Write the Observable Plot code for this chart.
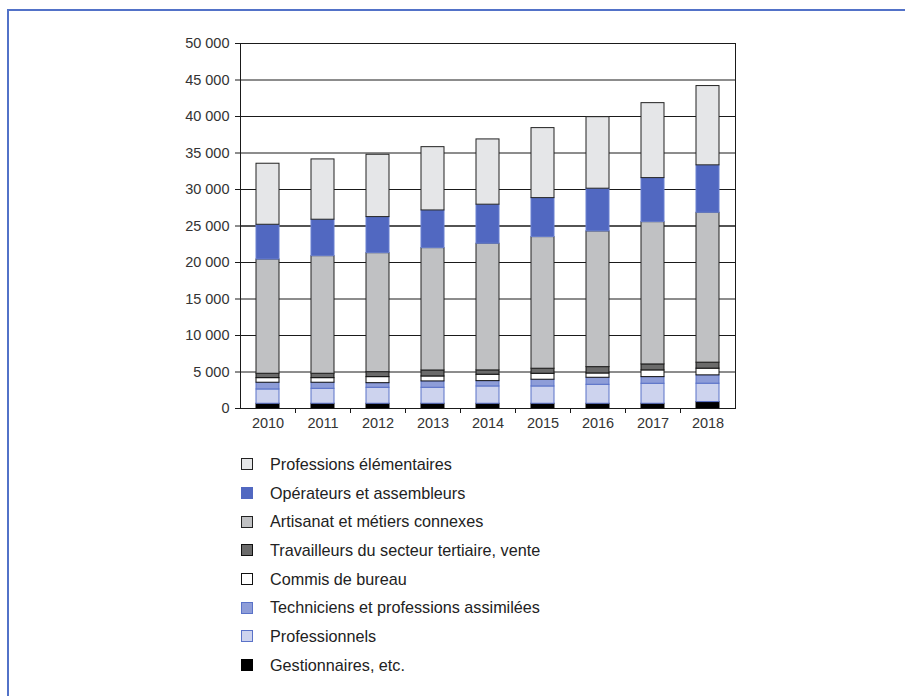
<!DOCTYPE html>
<html><head><meta charset="utf-8">
<script src="https://cdn.jsdelivr.net/npm/d3@7"></script>
<script src="https://cdn.jsdelivr.net/npm/@observablehq/plot@0.6"></script>
<style>
body{margin:0;background:#fff;font-family:"Liberation Sans",Arial,sans-serif;}
#frame{position:absolute;left:7px;top:9px;width:1000px;height:1000px;border-top:2px solid #5272c8;border-left:2px solid #5272c8;}
#chart{position:absolute;left:0;top:0;}
#legend{position:absolute;left:241px;top:450px;}
.item{height:28.7px;display:flex;align-items:center;font-size:16.2px;color:#222;}
.sw{width:12px;height:12px;box-sizing:border-box;border:1px solid;margin-right:17px;}
</style></head><body>
<div id="frame"></div><div id="chart"></div><div id="legend"></div>
<script>
const years = ["2010","2011","2012","2013","2014","2015","2016","2017","2018"];
const gestionnaires = [650,650,650,650,650,650,650,650,880];
const professionnels = [1960,2050,2190,2190,2370,2370,2600,2740,2520];
const techniciens = [920,830,630,870,730,920,960,910,1140];
const commis = [630,630,830,680,880,820,590,920,920];
const travailleurs = [600,600,680,820,590,690,870,820,820];
const artisanat = [15650,16110,16300,16760,17350,18030,18590,19490,20530];
const operateurs = [4760,4990,4940,5160,5350,5340,5850,6030,6500];
const elementaires = [8360,8260,8540,8670,8940,9590,9800,10270,10860];
const yTicks = [0,5000,10000,15000,20000,25000,30000,35000,40000,45000,50000];

// bottom to top
const seriesNames = ["Gestionnaires, etc.","Professionnels","Techniciens et professions assimilées","Commis de bureau","Travailleurs du secteur tertiaire, vente","Artisanat et métiers connexes","Opérateurs et assembleurs","Professions élémentaires"];
const seriesValues = [gestionnaires,professionnels,techniciens,commis,travailleurs,artisanat,operateurs,elementaires];
const fills = ["#000000","#cdd3ee","#8e9dd8","#ffffff","#6b6b6b","#c0c1c3","#5168c1","#e5e6e8"];
const strokes = ["#000000","#5a72c8","#5a72c8","#111111","#111111","#222222","#6a80d0","#222222"];

const fillOf = Object.fromEntries(seriesNames.map((n,i)=>[n,fills[i]]));
const strokeOf = Object.fromEntries(seriesNames.map((n,i)=>[n,strokes[i]]));

const data = [];
seriesNames.forEach((name,i)=>years.forEach((yr,j)=>data.push({year:yr,cat:name,value:seriesValues[i][j]})));

const fmt = d => d3.format(",")(d).replace(/,/g," ");

const chart = Plot.plot({
  width:905, height:440,
  marginLeft:240, marginRight:170, marginTop:43, marginBottom:32,
  style:{fontFamily:"'Liberation Sans', Arial, sans-serif", fontSize:"14.5px", color:"#333", background:"transparent"},
  x:{domain:years, paddingInner:0.58, paddingOuter:0.29, axis:null, label:null},
  y:{domain:[0,50000], axis:null, label:null},
  color:{type:"identity"},
  marks:[
    Plot.ruleY(yTicks,{stroke:"#1a1a1a", strokeWidth:d=>d===25000?1.6:1}),
    Plot.barY(data, Plot.stackY({order:seriesNames}, {x:"year", y:"value", z:"cat", fill:d=>fillOf[d.cat], stroke:d=>strokeOf[d.cat], strokeWidth:1})),
    Plot.frame({stroke:"#1a1a1a"}),
    Plot.axisY(yTicks,{tickSize:5, tickPadding:6, tickFormat:fmt, stroke:"#1a1a1a", fill:"#333", label:null}),
    Plot.axisX(years.slice(0,8),{tickSize:5, text:null, dx:27.5, stroke:"#1a1a1a", label:null}),
    Plot.axisX({tickSize:0, tickPadding:9, fill:"#333", label:null})
  ]
});
document.getElementById("chart").appendChild(chart);

const legend = document.getElementById("legend");
for (let i = seriesNames.length-1; i>=0; i--) {
  const it = document.createElement("div"); it.className="item";
  const sw = document.createElement("span"); sw.className="sw";
  sw.style.background = fills[i];
  sw.style.borderColor = (i===6) ? fills[i] : strokes[i];
  const tx = document.createElement("span"); tx.textContent = seriesNames[i];
  it.appendChild(sw); it.appendChild(tx); legend.appendChild(it);
}
</script>
</body></html>
